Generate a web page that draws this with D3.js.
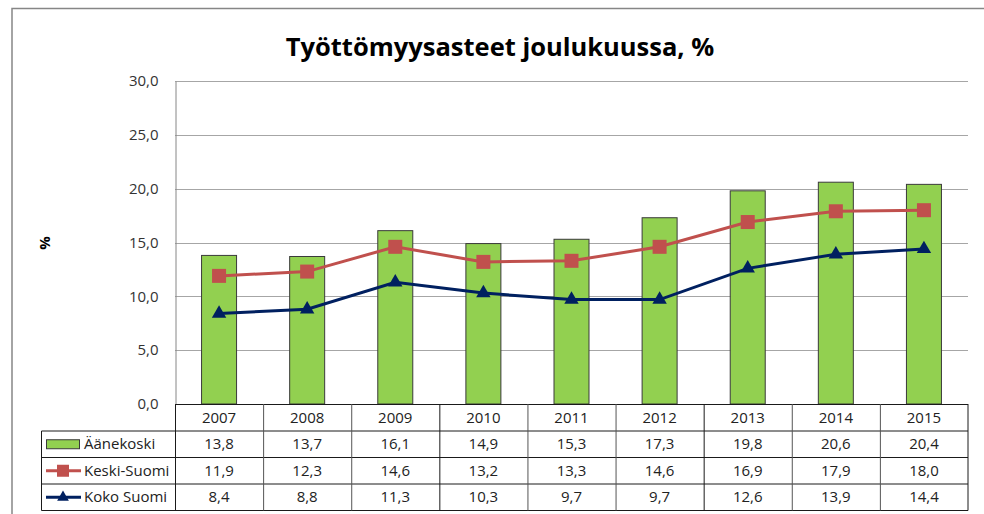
<!DOCTYPE html>
<html><head><meta charset="utf-8">
<script src="https://cdn.jsdelivr.net/npm/d3@7"></script>
<style>body{margin:0;background:#fff}svg{display:block;font-family:"Open Sans",sans-serif}</style>
</head><body><svg id="c" width="984" height="514"></svg>
<script>
const years = ["2007","2008","2009","2010","2011","2012","2013","2014","2015"];
const aanekoski = [13.8,13.7,16.1,14.9,15.3,17.3,19.8,20.6,20.4];
const keskiSuomi = [11.9,12.3,14.6,13.2,13.3,14.6,16.9,17.9,18.0];
const kokoSuomi = [8.4,8.8,11.3,10.3,9.7,9.7,12.6,13.9,14.4];
const yTicks = [0,5,10,15,20,25,30];
const seriesNames = ["Äänekoski","Keski-Suomi","Koko Suomi"];
const title = "Työttömyysasteet joulukuussa, %";

const svg = d3.select("#c");
const L = 175, R = 968, T = 81, B = 404;
const fmt = v => d3.format(".1f")(v).replace(".", ",");

// outer border
svg.append("rect").attr("x",12).attr("y",8.5).attr("width",990).attr("height",520)
  .attr("fill","none").attr("stroke","#868686").attr("stroke-width",1.5);

svg.append("text").attr("x",500).attr("y",56).attr("text-anchor","middle")
  .attr("font-size",25.5).attr("font-weight","bold").attr("fill","#000").text(title);

const x = d3.scaleBand().domain(years).range([L,R]).paddingInner(0).paddingOuter(0);
const y = d3.scaleLinear().domain([0,30]).range([B,T]);

// gridlines
svg.append("g").selectAll("line").data(yTicks).join("line")
  .attr("x1",L).attr("x2",R).attr("y1",d=>Math.round(y(d))+0.5).attr("y2",d=>Math.round(y(d))+0.5)
  .attr("stroke","#A6A6A6").attr("stroke-width",1);

// y axis
const yAxis = d3.axisLeft(y).tickValues(yTicks).tickFormat(fmt).tickSize(0).tickPadding(17);
const ga = svg.append("g").attr("transform",`translate(${L+0.5},0)`).call(yAxis);
ga.select(".domain").attr("stroke","#868686");
ga.selectAll("text").attr("font-size",15).attr("fill","#333").attr("font-family","Open Sans, sans-serif");

svg.append("text").attr("transform","translate(50,243) rotate(-90)").attr("text-anchor","middle")
  .attr("font-size",15).attr("font-weight","bold").text("%");

// bars
const bw = 35;
svg.append("g").selectAll("rect").data(aanekoski).join("rect")
  .attr("x",(d,i)=>x(years[i])+x.bandwidth()/2-bw/2).attr("width",bw)
  .attr("y",d=>y(d)).attr("height",d=>B-y(d))
  .attr("fill","#92D050").attr("stroke","#3a3a3a").attr("stroke-width",1);

const cx = i => x(years[i])+x.bandwidth()/2;
const line = d3.line().x((d,i)=>cx(i)).y(d=>y(d));
svg.append("path").datum(keskiSuomi).attr("d",line).attr("fill","none").attr("stroke","#C0504D").attr("stroke-width",3);
svg.append("g").selectAll("rect").data(keskiSuomi).join("rect")
  .attr("x",(d,i)=>cx(i)-7).attr("y",d=>y(d)-7).attr("width",14).attr("height",14).attr("fill","#C0504D");
svg.append("path").datum(kokoSuomi).attr("d",line).attr("fill","none").attr("stroke","#002060").attr("stroke-width",3);
const tri = d3.symbol().type(d3.symbolTriangle).size(90);
svg.append("g").selectAll("path").data(kokoSuomi).join("path")
  .attr("transform",(d,i)=>`translate(${cx(i)},${y(d)})`).attr("d",tri).attr("fill","#002060");

// data table
const rowY = [404,431,457.5,484,510.5];
const LL = 41.5;
const tg = svg.append("g");
const stroke = "#1a1a1a";
tg.append("line").attr("x1",L).attr("x2",R).attr("y1",rowY[0]+0.5).attr("y2",rowY[0]+0.5).attr("stroke",stroke);
rowY.slice(1).forEach(yy=>{
  tg.append("line").attr("x1",LL).attr("x2",R).attr("y1",yy).attr("y2",yy).attr("stroke",stroke);
});
years.forEach((yr,i)=>{
  tg.append("line").attr("x1",x(yr)+0.5).attr("x2",x(yr)+0.5).attr("y1",rowY[0]).attr("y2",rowY[4]).attr("stroke",i%3===0?stroke:"#555");
});
tg.append("line").attr("x1",R).attr("x2",R).attr("y1",rowY[0]).attr("y2",rowY[4]).attr("stroke",stroke);
tg.append("line").attr("x1",LL).attr("x2",LL).attr("y1",rowY[1]).attr("y2",rowY[4]).attr("stroke",stroke);

const tFont = 15;
tg.selectAll("text.yr").data(years).join("text").attr("class","yr")
  .attr("x",d=>x(d)+x.bandwidth()/2).attr("y",(rowY[0]+rowY[1])/2+5).attr("text-anchor","middle")
  .attr("font-size",tFont).attr("fill","#222").text(d=>d);
[aanekoski,keskiSuomi,kokoSuomi].forEach((arr,r)=>{
  tg.selectAll("text.r"+r).data(arr).join("text").attr("class","r"+r)
    .attr("x",(d,i)=>cx(i)).attr("y",(rowY[r+1]+rowY[r+2])/2+5).attr("text-anchor","middle")
    .attr("font-size",tFont).attr("fill","#222").text(d=>fmt(d));
  const my = (rowY[r+1]+rowY[r+2])/2;
  tg.append("text").attr("x",84).attr("y",my+5).attr("font-size",tFont).attr("fill","#222").text(seriesNames[r]);
});
let m1 = (rowY[1]+rowY[2])/2;
tg.append("rect").attr("x",46.5).attr("y",m1-4.5).attr("width",33).attr("height",9).attr("fill","#92D050").attr("stroke","#3a3a3a");
let m2 = (rowY[2]+rowY[3])/2;
tg.append("line").attr("x1",46).attr("x2",81).attr("y1",m2).attr("y2",m2).attr("stroke","#C0504D").attr("stroke-width",3);
tg.append("rect").attr("x",57).attr("y",m2-6).attr("width",12).attr("height",12).attr("fill","#C0504D");
let m3 = (rowY[3]+rowY[4])/2;
tg.append("line").attr("x1",46).attr("x2",81).attr("y1",m3).attr("y2",m3).attr("stroke","#002060").attr("stroke-width",3);
tg.append("path").attr("transform",`translate(63,${m3})`).attr("d",d3.symbol().type(d3.symbolTriangle).size(60)).attr("fill","#002060");
</script></body></html>
